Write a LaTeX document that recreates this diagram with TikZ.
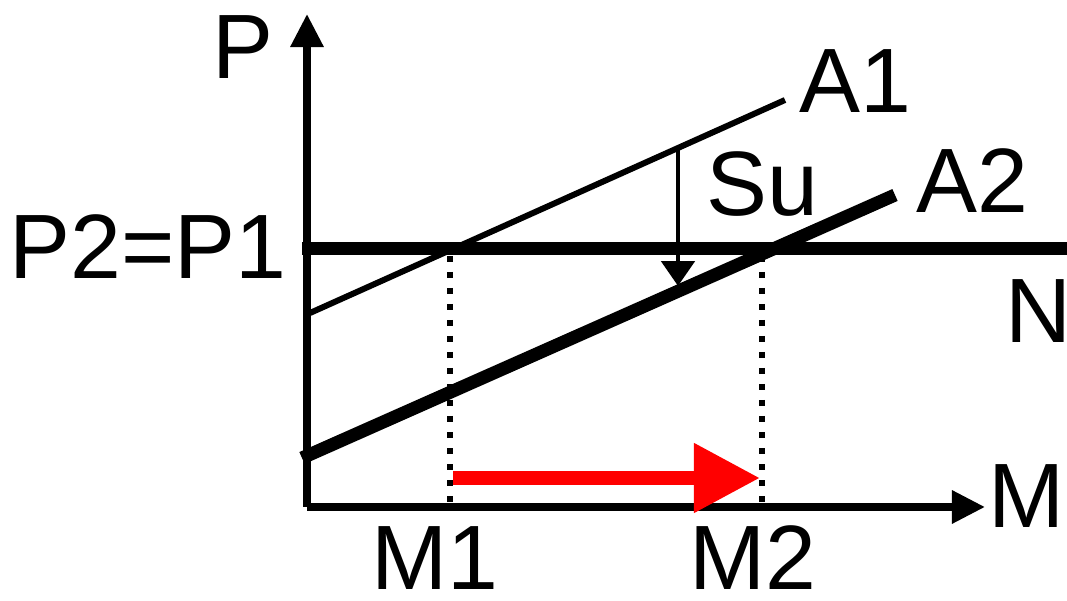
\documentclass[tikz,border=0pt]{standalone}
\usepackage{fontspec}
\setmainfont{Liberation Sans}
\usetikzlibrary{arrows.meta}

\begin{document}
\begin{tikzpicture}[
    x=0.01cm, y=-0.01cm,
    axisline/.style={line width=2.1pt, -{Triangle[length=9.4pt, width=9pt]}},
    lbl/.style={anchor=base, inner sep=0pt, font=\fontsize{26}{30}\selectfont},
    guide/.style={line width=1.7pt, dash pattern=on 1.7pt off 2.85pt}
  ]
    \useasboundingbox (0,0) rectangle (1067,601);

    % Axes
    \coordinate (O) at (307,507);
    \coordinate (ytop) at (307,14);
    \coordinate (xend) at (985,507);
    \draw[axisline] (O) -- (ytop);
    \draw[axisline] (O) -- (xend);
    \node[lbl] (P) at (243,79) {P};
    \node[lbl] (M) at (1027,528) {M};

    % Price level N
    \coordinate (n0) at (302,249);
    \coordinate (n1) at (1067,249);
    \draw[line width=3.7pt] (n0) -- (n1);
    \node[lbl] (Plab) at (148,279) {P2=P1};
    \node[lbl] (N) at (1038,343) {N};

    % Lines A1 and A2
    \coordinate (a1s) at (310,313);
    \coordinate (a1e) at (785,100);
    \draw[line width=1.7pt] (a1s) -- (a1e);
    \node[lbl] (A1) at (855,113) {A1};
    \coordinate (a2s) at (302,458);
    \coordinate (a2e) at (895,195);
    \draw[line width=3.7pt] (a2s) -- (a2e);
    \node[lbl] (A2) at (972,213) {A2};

    % Shift Su
    \coordinate (su0) at (678,146);
    \coordinate (su1) at (678,286);
    \draw[line width=1.4pt, -{Triangle[length=7.1pt, width=9.4pt]}] (su0) -- (su1);
    \node[lbl] (Su) at (762,216) {Su};

    % Quantities M1, M2
    \coordinate (m1t) at (450,256);
    \coordinate (m1b) at (450,506);
    \coordinate (m2t) at (762,256);
    \coordinate (m2b) at (762,506);
    \draw[guide] (m1t) -- (m1b);
    \draw[guide] (m2t) -- (m2b);
    \node[lbl] (M1) at (435,590) {M1};
    \node[lbl] (M2) at (753,590) {M2};

    % Red shift arrow
    \coordinate (r0) at (453,478);
    \coordinate (r1) at (760,478);
    \draw[red, line width=4pt, -{Triangle[length=18.8pt, width=18.8pt]}] (r0) -- (r1);
\end{tikzpicture}
\end{document}
